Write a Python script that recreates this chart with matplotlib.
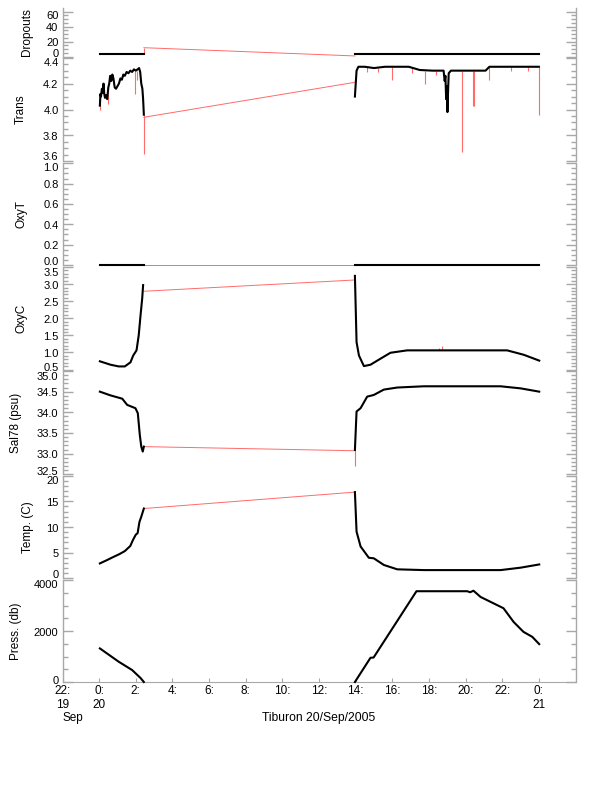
import matplotlib
matplotlib.use("Agg")
import matplotlib.pyplot as plt
import matplotlib.transforms as mtransforms
import numpy as np

plt.rcParams['font.family'] = ['Liberation Sans', 'DejaVu Sans']
plt.rcParams['font.size'] = 8.5

# ---------------- data (hours relative to 20 Sep 2005 00:00) ----------------
# Dropouts
drop_t1 = [0.04, 2.44]
drop_v1 = [3, 3]
drop_t2 = [13.96, 24.02]
drop_v2 = [3, 3]
drop_gap_t = [2.44, 13.96]
drop_gap_v = [12, 1]
drop_spk_t = [2.44]
drop_spk_lo = [3]
drop_spk_hi = [12]

# Trans
trans_t1 = [0.04, 0.07, 0.10, 0.15, 0.20, 0.24, 0.28, 0.32, 0.38, 0.44, 0.50, 0.55, 0.60, 0.66, 0.72,
            0.78, 0.85, 0.92, 1.00, 1.08, 1.16, 1.24, 1.32, 1.40, 1.50, 1.60, 1.70, 1.80, 1.90, 2.00,
            2.10, 2.18, 2.24, 2.30, 2.36, 2.40, 2.44]
trans_v1 = [4.03, 4.12, 4.10, 4.16, 4.13, 4.20, 4.12, 4.09, 4.11, 4.08, 4.17, 4.20, 4.26, 4.22, 4.27,
            4.24, 4.17, 4.16, 4.18, 4.20, 4.24, 4.23, 4.27, 4.26, 4.29, 4.28, 4.30, 4.29, 4.31, 4.30,
            4.31, 4.32, 4.29, 4.20, 4.16, 4.08, 3.96]
trans_t2 = [13.96, 14.05, 14.15, 14.5, 15.0, 15.6, 16.2, 16.9, 17.5, 18.2, 18.8, 18.86, 18.9, 18.94,
            18.98, 19.01, 19.04, 19.08, 19.2, 19.6, 20.5, 21.09, 21.3, 22.0, 23.0, 24.0]
trans_v2 = [4.10, 4.30, 4.33, 4.33, 4.32, 4.33, 4.33, 4.33, 4.305, 4.30, 4.30, 4.22, 4.26, 4.08,
            4.18, 3.98, 4.12, 4.28, 4.30, 4.30, 4.30, 4.30, 4.33, 4.33, 4.33, 4.33]
trans_gap_t = [2.44, 13.96]
trans_gap_v = [3.94, 4.21]
trans_spk_t = [0.04, 0.50, 1.98, 2.05, 2.25, 2.44, 16.0, 17.8, 19.78, 20.40, 20.45, 21.3, 24.0,
               14.6, 15.2, 17.1, 18.4, 22.5, 23.4]
trans_spk_lo = [4.00, 4.04, 4.12, 4.23, 4.23, 3.66, 4.23, 4.20, 3.67, 4.03, 4.03, 4.23, 3.96,
                4.29, 4.29, 4.28, 4.27, 4.30, 4.30]
trans_spk_hi = [4.10, 4.17, 4.30, 4.30, 4.30, 3.96, 4.33, 4.30, 4.30, 4.30, 4.30, 4.33, 4.33,
                4.33, 4.32, 4.33, 4.30, 4.33, 4.33]

# OxyT
oxyt_t1 = [0.04, 2.44]
oxyt_v1 = [0.0, 0.0]
oxyt_t2 = [13.96, 24.02]
oxyt_v2 = [0.0, 0.0]
oxyt_gap_t = [2.44, 13.96]
oxyt_gap_v = [0.0, 0.0]
oxyt_spk_t = []
oxyt_spk_lo = []
oxyt_spk_hi = []

# OxyC
oxyc_t1 = [0.04, 0.62, 1.07, 1.40, 1.71, 1.86, 2.04, 2.16, 2.26, 2.35, 2.40]
oxyc_v1 = [0.74, 0.64, 0.59, 0.59, 0.71, 0.91, 1.06, 1.50, 2.09, 2.58, 2.97]
oxyc_t2 = [13.96, 14.05, 14.18, 14.45, 14.81, 15.18, 15.90, 16.81, 22.27, 23.18, 24.02]
oxyc_v2 = [3.24, 1.30, 0.91, 0.60, 0.64, 0.76, 0.99, 1.06, 1.06, 0.93, 0.76]
oxyc_gap_t = [2.44, 13.96]
oxyc_gap_v = [2.79, 3.12]
oxyc_spk_t = [18.54, 18.73]
oxyc_spk_lo = [1.06, 1.06]
oxyc_spk_hi = [1.14, 1.20]

# Sal78
sal_t1 = [0.04, 0.62, 1.26, 1.53, 1.98, 2.11, 2.22, 2.30, 2.38, 2.44]
sal_v1 = [34.50, 34.41, 34.33, 34.18, 34.10, 33.98, 33.45, 33.17, 33.05, 33.17]
sal_t2 = [13.96, 14.05, 14.27, 14.63, 14.99, 15.54, 16.27, 17.72, 21.91, 23.0, 24.02]
sal_v2 = [33.09, 34.02, 34.10, 34.38, 34.42, 34.55, 34.60, 34.63, 34.63, 34.58, 34.50]
sal_gap_t = [2.44, 13.96]
sal_gap_v = [33.17, 33.07]
sal_spk_t = [13.96]
sal_spk_lo = [32.70]
sal_spk_hi = [33.09]

# Temperature
temp_t1 = [0.04, 0.40, 0.80, 1.10, 1.40, 1.70, 1.85, 2.00, 2.10, 2.20, 2.30, 2.44]
temp_v1 = [2.9, 3.5, 4.2, 4.7, 5.3, 6.3, 7.5, 8.5, 8.8, 11.0, 12.0, 13.6]
temp_t2 = [13.96, 14.05, 14.27, 14.72, 14.99, 15.54, 16.27, 17.72, 21.91, 23.0, 24.02]
temp_v2 = [16.8, 9.1, 6.2, 4.0, 3.9, 2.6, 1.75, 1.6, 1.6, 2.07, 2.7]
temp_gap_t = [2.44, 13.96]
temp_gap_v = [13.6, 16.8]
temp_spk_t = []
temp_spk_lo = []
temp_spk_hi = []

# Pressure
press_t1 = [0.04, 1.07, 1.80, 2.26, 2.44]
press_v1 = [1317, 794, 469, 156, 0]
press_t2 = [13.96, 14.81, 14.98, 17.32, 20.09, 20.25, 20.43, 20.82, 22.07, 22.62, 23.16, 23.64, 24.02]
press_v2 = [0, 950, 960, 3560, 3560, 3520, 3580, 3335, 2893, 2357, 1966, 1771, 1486]
press_gap_t = [2.44, 13.96]
press_gap_v = [0, 0]
press_spk_t = []
press_spk_lo = []
press_spk_hi = []

# x axis
xtick_pos = list(range(-2, 25, 2))
xtick_lab = ['22:', '0:'] + ['%d:' % h for h in range(2, 24, 2)] + ['0:']
xday_pos = [-2, 0, 24]
xday_lab = ['19', '20', '21']
xlim = (-2, 26)

panels = [
    dict(label='Dropouts', t1=drop_t1, v1=drop_v1, t2=drop_t2, v2=drop_v2, gt=drop_gap_t, gv=drop_gap_v,
         st=drop_spk_t, slo=drop_spk_lo, shi=drop_spk_hi,
         ylim=(0, 64.5), ticks=(0, 60), major=20, minor=5, top=8.3, bot=56.7,
         sh=(4.4, 3.3), lx=33.5),
    dict(label='Trans', t1=trans_t1, v1=trans_v1, t2=trans_t2, v2=trans_v2, gt=trans_gap_t, gv=trans_gap_v,
         st=trans_spk_t, slo=trans_spk_lo, shi=trans_spk_hi,
         ylim=(3.6, 4.4), ticks=(3.6, 4.4), major=0.2, minor=0.05, top=57.7, bot=161.3,
         sh=(5.5, 4.3), lx=27),
    dict(label='OxyT', t1=oxyt_t1, v1=oxyt_v1, t2=oxyt_t2, v2=oxyt_v2, gt=oxyt_gap_t, gv=oxyt_gap_v,
         st=oxyt_spk_t, slo=oxyt_spk_lo, shi=oxyt_spk_hi,
         ylim=(0.0, 1.0), ticks=(0.0, 1.0), major=0.2, minor=0.05, top=163.3, bot=265,
         sh=(4.5, 3.0), lx=27.5),
    dict(label='OxyC', t1=oxyc_t1, v1=oxyc_v1, t2=oxyc_t2, v2=oxyc_v2, gt=oxyc_gap_t, gv=oxyc_gap_v,
         st=oxyc_spk_t, slo=oxyc_spk_lo, shi=oxyc_spk_hi,
         ylim=(0.5, 3.5), ticks=(0.5, 3.5), major=0.5, minor=0.1, top=267, bot=369.5,
         sh=(3.0, 4.0), lx=27.7),
    dict(label='Sal78 (psu)', t1=sal_t1, v1=sal_v1, t2=sal_t2, v2=sal_v2, gt=sal_gap_t, gv=sal_gap_v,
         st=sal_spk_t, slo=sal_spk_lo, shi=sal_spk_hi,
         ylim=(32.5, 35.0), ticks=(32.5, 35.0), major=0.5, minor=0.1, top=371, bot=474.3,
         sh=(4.2, 4.7), lx=21.5),
    dict(label='Temp. (C)', t1=temp_t1, v1=temp_v1, t2=temp_t2, v2=temp_v2, gt=temp_gap_t, gv=temp_gap_v,
         st=temp_spk_t, slo=temp_spk_lo, shi=temp_spk_hi,
         ylim=(0, 20), ticks=(0, 20), major=5, minor=1, top=475.7, bot=578.3,
         sh=(4.3, 4.3), lx=34.5),
    dict(label='Press. (db)', t1=press_t1, v1=press_v1, t2=press_t2, v2=press_v2, gt=press_gap_t, gv=press_gap_v,
         st=press_spk_t, slo=press_spk_lo, shi=press_spk_hi,
         ylim=(0, 4000), ticks=(0, 4000), major=2000, minor=500, top=580, bot=682,
         sh=(3.0, 4.0), lx=21.7),
]

W, H = 612, 785
DPI = 100
fig = plt.figure(figsize=(W / DPI, H / DPI), dpi=DPI)
gray = '#a8a8a8'
red = '#ff6a6a'
L, R = 62.5, 575.5
TFS = 8.0   # tick label font size
YOFF = -1.5  # glyph centring correction (px)

for i, p in enumerate(panels):
    ax = fig.add_axes([L / W, 1 - p['bot'] / H, (R - L) / W, (p['bot'] - p['top']) / H])
    ax.plot(p['gt'], p['gv'], color=red, lw=0.7, zorder=2, clip_on=False)
    if len(p['st']):
        ax.vlines(p['st'], p['slo'], p['shi'], color=red, lw=0.8, zorder=2)
    ax.plot(p['t1'], p['v1'], color='black', lw=1.5, zorder=3, clip_on=False)
    ax.plot(p['t2'], p['v2'], color='black', lw=1.5, zorder=3, clip_on=False)
    ax.set_xlim(*xlim)
    ax.set_ylim(*p['ylim'])
    t0, t1 = p['ticks']
    majors = np.arange(t0, t1 + p['major'] * 0.01, p['major'])
    ax.set_yticks(majors)
    ax.set_yticks(np.arange(t0, p['ylim'][1] + p['minor'] * 0.01, p['minor']), minor=True)
    for s in ['top', 'bottom']:
        ax.spines[s].set_visible(False)
    for s in ['left', 'right']:
        ax.spines[s].set_color(gray)
        ax.spines[s].set_linewidth(1.0)
    ax.tick_params(axis='y', which='major', direction='in', length=7, width=1, color=gray,
                   left=True, right=True, labelleft=False)
    ax.tick_params(axis='y', which='minor', direction='in', length=3.5, width=1, color=gray,
                   left=True, right=True)
    # tick labels, edge labels nudged inwards
    fmt = '%.1f' if p['major'] < 1 else '%d'
    base = mtransforms.blended_transform_factory(ax.transAxes, ax.transData)
    for k, v in enumerate(majors):
        dy = YOFF
        if k == 0:
            dy += p['sh'][0]
        elif k == len(majors) - 1:
            dy -= p['sh'][1]
        tr = base + mtransforms.ScaledTranslation(-4 / DPI, dy / DPI, fig.dpi_scale_trans)
        ax.text(0, v, fmt % v, transform=tr, ha='right', va='center', fontsize=TFS)
    ax.set_ylabel(p['label'], fontsize=8.5)
    ax.yaxis.set_label_coords((p['lx'] - L) / (R - L), 0.5)
    ax.set_xticks([])
    if i == len(panels) - 1:
        ax.spines['bottom'].set_visible(True)
        ax.spines['bottom'].set_color(gray)
        ax.set_xticks(xtick_pos)
        ax.tick_params(axis='x', direction='in', length=3, color=gray, labelbottom=False)
        xb = mtransforms.blended_transform_factory(ax.transData, ax.transAxes)
        for xp, xl in zip(xtick_pos, xtick_lab):
            tr = xb + mtransforms.ScaledTranslation(0, (-8 + YOFF) / DPI, fig.dpi_scale_trans)
            ax.text(xp, 0, xl, transform=tr, ha='center', va='center', fontsize=8.5)
        for xp, xl in zip(xday_pos, xday_lab):
            tr = xb + mtransforms.ScaledTranslation(0, (-21.3 + YOFF) / DPI, fig.dpi_scale_trans)
            ax.text(xp, 0, xl, transform=tr, ha='center', va='center', fontsize=8.5)
        tr = xb + mtransforms.ScaledTranslation(10 / DPI, (-34.7 + YOFF) / DPI, fig.dpi_scale_trans)
        ax.text(xday_pos[0], 0, 'Sep', transform=tr, ha='center', va='center', fontsize=8.5)
        tr = ax.transAxes + mtransforms.ScaledTranslation(0, (-34.7 + YOFF) / DPI, fig.dpi_scale_trans)
        ax.text(0.5, 0, 'Tiburon 20/Sep/2005', transform=tr, ha='center', va='center', fontsize=8.7)

fig.savefig('out.png', dpi=DPI)
